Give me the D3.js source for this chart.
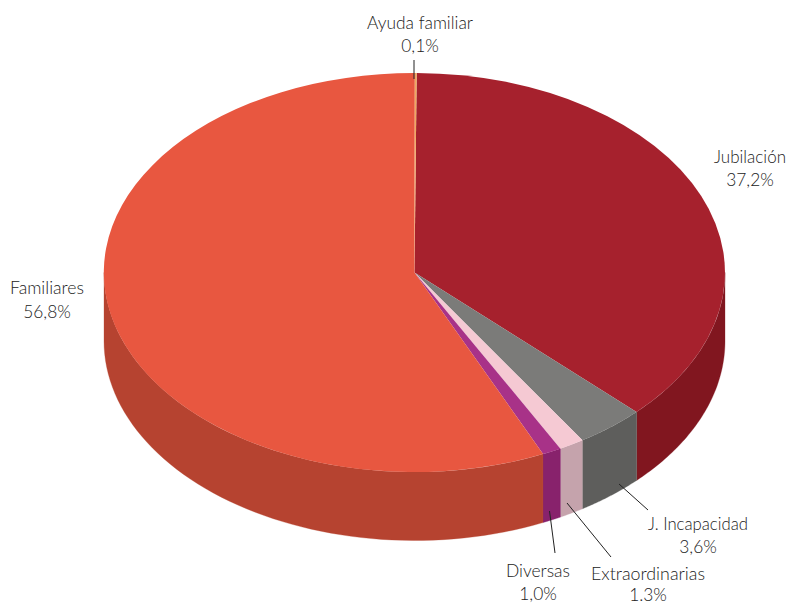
<!DOCTYPE html>
<html><head><meta charset="utf-8">
<script src="https://cdnjs.cloudflare.com/ajax/libs/d3/7.8.5/d3.min.js"></script>
<style>html,body{margin:0;padding:0;background:#fff}svg{display:block}
text{font-family:Lato,"Open Sans",sans-serif;font-weight:300;font-size:18.5px;fill:#222}</style>
</head><body><svg id="c" width="788" height="604"></svg>
<script>
const categories = ["Jubilación","J. Incapacidad","Extraordinarias","Diversas","Familiares","Ayuda familiar"];
const values = [37.2,3.6,1.3,1.0,56.8,0.1];
const valueLabels = ["37,2%","3,6%","1.3%","1,0%","56,8%","0,1%"];
const topColors = ["#A6212D","#7B7B79","#F5C9D3","#A83288","#E85740","#EFA860"];
const sideColors = ["#81161F","#5E5E5C","#C5A3AC","#88226C","#B64330","#C08040"];
// layout
const cx=414.5, cy=272.5, rx=310.5, ry=199.5, depth=68.5;
const rotation=0.4*Math.PI/180;
const labelX=[750,698,648,538,47,420];
const labelY=[163,530,579.5,577,294,29];
const labelW=[72,100,114,64,74,106];
const valueY=[186,553,600.5,600,318,52];
const leaders=[null,[619,484,648,510],[567,503,611,557],[549.5,511,555,553],null,[414,60,414,79]];

const svg=d3.select("#c");
const sx=d3.scaleLinear().domain([-1,1]).range([cx-rx,cx+rx]);
const sy=d3.scaleLinear().domain([-1,1]).range([cy-ry,cy+ry]);
const pie=d3.pie().sort(null).startAngle(rotation).endAngle(2*Math.PI+rotation)(values);
const line=d3.line();

const gSide=svg.append("g");
pie.forEach((d,i)=>{
  const a0=Math.max(d.startAngle,Math.PI/2), a1=Math.min(d.endAngle,Math.PI*1.5);
  if(a1<=a0) return;
  const ang=d3.range(0,61).map(k=>a0+(a1-a0)*k/60);
  const top=ang.map(a=>[sx(Math.sin(a)),sy(-Math.cos(a))]);
  const bot=ang.map(a=>[sx(Math.sin(a)),sy(-Math.cos(a))+depth]).reverse();
  gSide.append("path").attr("d",line(top.concat(bot))+"Z").attr("fill",sideColors[i]).attr("stroke",sideColors[i]).attr("stroke-width",0.3);
});
const arc=d3.arc().innerRadius(0).outerRadius(1);
const gTop=svg.append("g").attr("transform",`translate(${cx},${cy}) scale(${rx},${ry})`);
gTop.selectAll("path").data(pie).join("path").attr("d",arc).attr("fill",(d,i)=>topColors[i]);

svg.append("g").selectAll("line").data(leaders.filter(Boolean)).join("line")
  .attr("x1",d=>d[0]).attr("y1",d=>d[1]).attr("x2",d=>d[2]).attr("y2",d=>d[3])
  .attr("stroke","#222").attr("stroke-width",1);

const g=svg.append("g").attr("text-anchor","middle");
const squeeze=0.94;
categories.forEach((c,i)=>{
  const t=g.append("text").text(c);
  const k=labelW[i]/t.node().getComputedTextLength();
  t.attr("transform",`translate(${labelX[i]},${labelY[i]}) scale(${k},1)`);
  g.append("text").attr("transform",`translate(${labelX[i]},${valueY[i]}) scale(${squeeze},1)`).text(valueLabels[i]);
});
</script></body></html>
